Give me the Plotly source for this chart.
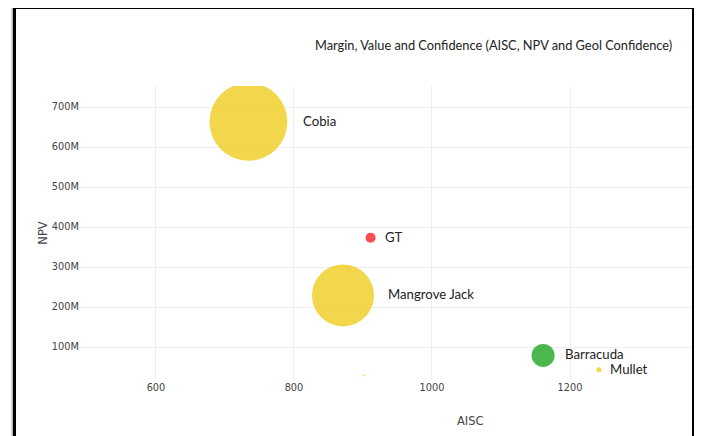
import plotly.graph_objects as go

# ---- data ----
projects = ["Cobia", "GT", "Mangrove Jack", "Barracuda", "Mullet", ""]
aisc = [734, 911, 871, 1161, 1242, 902]
npv = [663e6, 373e6, 229e6, 79e6, 43e6, 29e6]
bubble_size = [78, 10, 62, 23, 5, 2]
confidence = ["Medium", "Low", "Medium", "High", "Medium", "Medium"]

conf_colors = {"High": "rgb(20,160,20)", "Medium": "rgb(238,203,20)", "Low": "rgb(250,20,25)"}

# page has an 8px body margin; work in page pixels and shift
OFF = 8
W, H = 702 - OFF, 436 - OFF
L, R, T, B = 80, 692, 86, 380


def px_x(p):
    return (p - L) / (R - L)


def px_y(p):
    return (B - p) / (B - T)


fig = go.Figure()
fig.add_trace(go.Scatter(
    x=aisc, y=npv, mode="markers",
    marker=dict(size=bubble_size, sizemode="diameter", sizeref=1,
                color=[conf_colors[c] for c in confidence], opacity=0.76,
                line=dict(width=0)),
    hoverinfo="skip", showlegend=False,
))

annotations = []
for name, xv, yv, s in zip(projects, aisc, npv, bubble_size):
    if not name:
        continue
    annotations.append(dict(
        x=xv, y=yv, xref="x", yref="y", text=name, showarrow=False,
        xanchor="left", yanchor="middle", xshift=1.17 * s / 2 + 6.5, yshift=1,
        font=dict(family="Lato", size=13.2, color="#222"),
    ))

annotations.append(dict(
    x=px_x(470), y=px_y(421), xref="paper", yref="paper", text="AISC",
    showarrow=False, xanchor="center", yanchor="middle",
    font=dict(family="DejaVu Sans", size=11.5, color="#444"),
))
annotations.append(dict(
    x=px_x(674), y=px_y(45), xref="paper", yref="paper",
    text="Margin, Value and Confidence (AISC, NPV and Geol Confidence)",
    showarrow=False, xanchor="right", yanchor="middle",
    font=dict(family="Lato", size=12.8, color="#222"),
))

shapes = [
    # frame shadow
    dict(type="rect", xref="paper", yref="paper", x0=px_x(695), x1=px_x(698.5),
         y0=px_y(445), y1=px_y(8), fillcolor="rgba(0,0,0,0.35)", line=dict(width=0)),
    dict(type="rect", xref="paper", yref="paper", x0=px_x(698.5), x1=px_x(702),
         y0=px_y(445), y1=px_y(9), fillcolor="rgba(0,0,0,0.12)", line=dict(width=0)),
    dict(type="rect", xref="paper", yref="paper", x0=px_x(11.5), x1=px_x(13),
         y0=px_y(445), y1=px_y(5), fillcolor="rgba(0,0,0,0.3)", line=dict(width=0)),
    # frame
    dict(type="line", xref="paper", yref="paper", x0=px_x(14.5), x1=px_x(14.5),
         y0=px_y(6), y1=px_y(445), line=dict(color="black", width=3)),
    dict(type="line", xref="paper", yref="paper", x0=px_x(13), x1=px_x(695),
         y0=px_y(7.5), y1=px_y(7.5), line=dict(color="black", width=3)),
    dict(type="line", xref="paper", yref="paper", x0=px_x(693.5), x1=px_x(693.5),
         y0=px_y(6), y1=px_y(445), line=dict(color="black", width=3)),
]

fig.update_layout(
    width=W, height=H,
    margin=dict(l=L - OFF, r=702 - R, t=T - OFF, b=436 - B, pad=0),
    paper_bgcolor="white", plot_bgcolor="white",
    font=dict(family="DejaVu Sans", size=9.8, color="#444"),
    xaxis=dict(range=[489.9, 1376.8], tickvals=[600, 800, 1000, 1200],
               showgrid=True, gridcolor="#eee", zeroline=False, showline=False,
               ticks="", tickfont=dict(size=9.8)),
    yaxis=dict(range=[17.5e6, 752.5e6], dtick=100e6, tickformat="~s",
               showgrid=True, gridcolor="#eee", zeroline=False, showline=False,
               ticks="", tickfont=dict(size=9.8),
               title=dict(text="NPV", font=dict(size=11.5, color="#444"), standoff=1)),
    annotations=annotations,
    shapes=shapes,
)

fig.write_html("out.html")
